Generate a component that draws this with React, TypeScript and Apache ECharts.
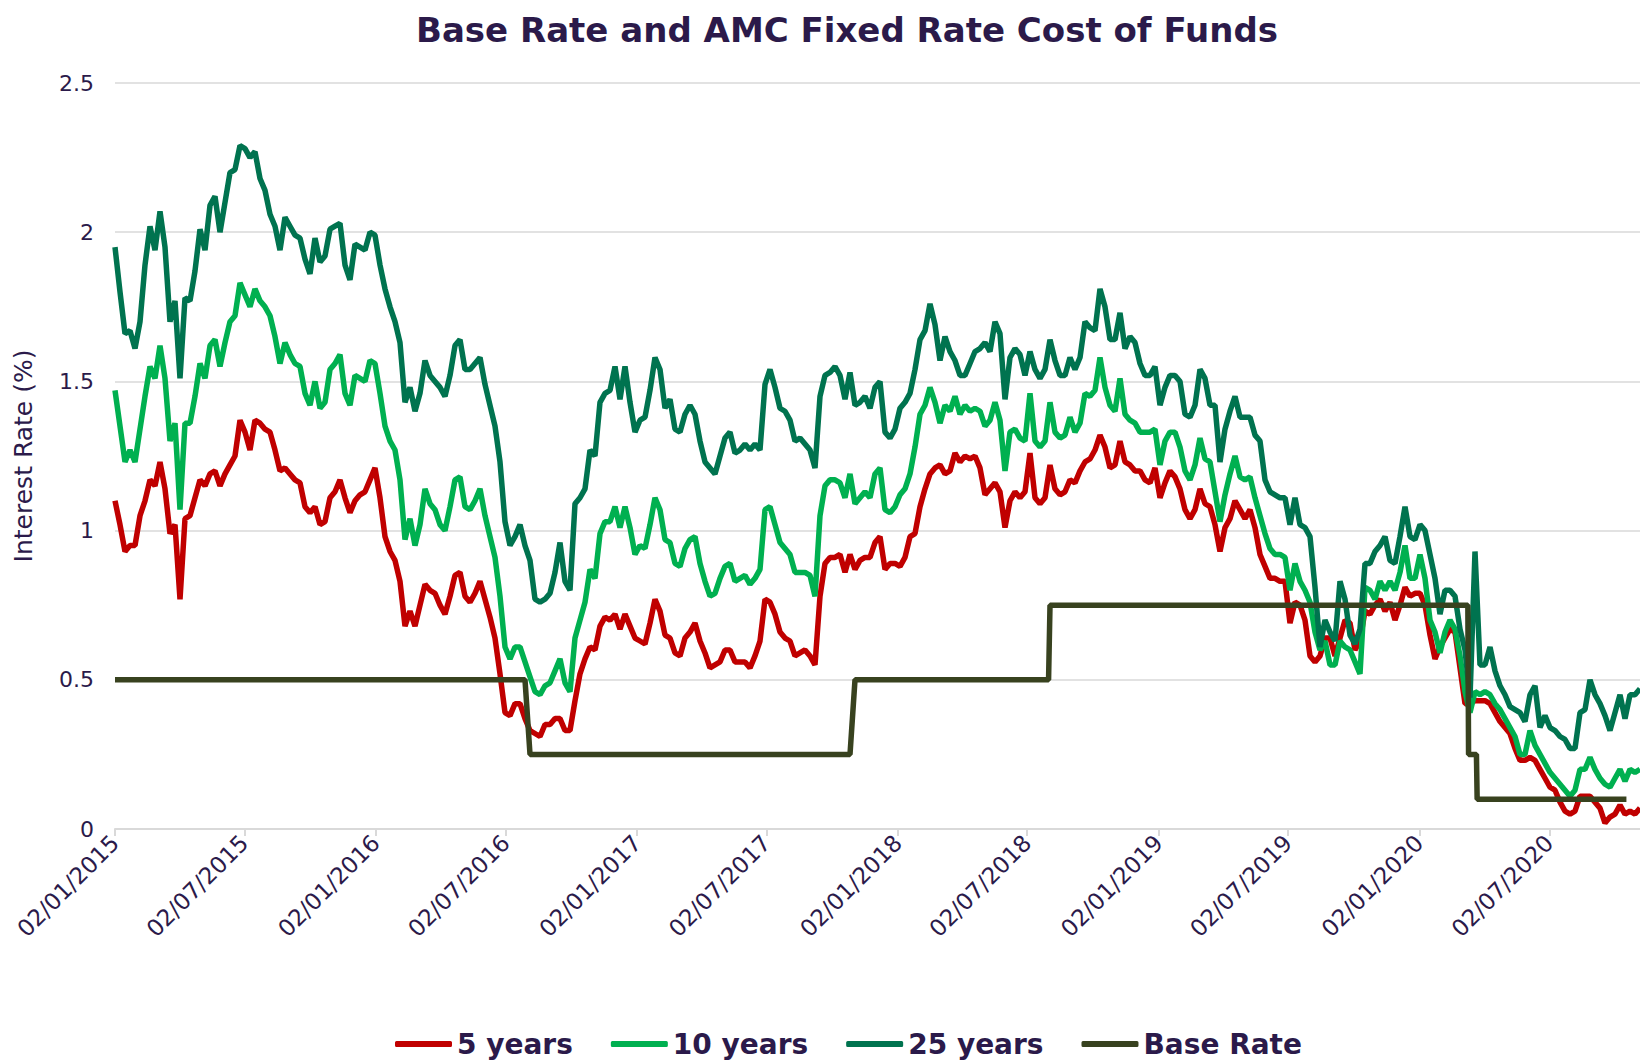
import React, { useEffect, useRef } from "react";
import * as echarts from "echarts";

// Weekly observations, first week 02/01/2015
const FIRST_WEEK = [2015, 1, 2];
const WEEK_COUNT = 306;

const years5: number[] = [
  1.10,1.02,0.93,0.95,0.95,1.05,1.10,1.17,1.15,1.23,
  1.14,0.99,1.02,0.77,1.04,1.05,1.11,1.17,1.15,1.19,
  1.20,1.15,1.19,1.22,1.25,1.37,1.33,1.27,1.37,1.36,
  1.34,1.33,1.27,1.20,1.21,1.19,1.17,1.16,1.08,1.06,
  1.08,1.02,1.03,1.11,1.13,1.17,1.11,1.06,1.10,1.12,
  1.13,1.17,
  1.21,1.11,0.98,0.93,0.90,0.83,0.68,0.73,0.68,0.75,
  0.82,0.80,0.79,0.75,0.72,0.78,0.85,0.86,0.78,0.76,
  0.79,0.83,0.77,0.71,0.64,0.52,0.39,0.38,0.42,0.42,
  0.37,0.33,0.32,0.31,0.35,0.35,0.37,0.37,0.33,0.33,
  0.43,0.52,0.57,0.61,0.60,0.68,0.71,0.70,0.72,0.67,
  0.72,0.68,
  0.64,0.63,0.62,0.69,0.77,0.73,0.65,0.64,0.59,0.58,
  0.64,0.66,0.69,0.63,0.59,0.54,0.55,0.56,0.60,0.60,
  0.56,0.56,0.56,0.54,0.58,0.63,0.77,0.76,0.72,0.66,
  0.64,0.63,0.58,0.59,0.60,0.58,0.55,0.78,0.89,0.91,
  0.91,0.92,0.86,0.92,0.87,0.90,0.91,0.91,0.96,0.98,
  0.87,0.89,
  0.89,0.88,0.91,0.98,0.99,1.08,1.14,1.19,1.21,1.22,
  1.19,1.20,1.26,1.23,1.25,1.24,1.25,1.21,1.12,1.14,
  1.16,1.13,1.01,1.10,1.13,1.11,1.13,1.26,1.11,1.09,
  1.11,1.22,1.14,1.12,1.13,1.17,1.16,1.20,1.23,1.24,
  1.27,1.32,1.28,1.21,1.22,1.30,1.23,1.22,1.20,1.20,
  1.17,1.16,
  1.21,1.11,1.16,1.20,1.18,1.14,1.07,1.04,1.07,1.14,
  1.09,1.08,1.02,0.93,1.01,1.04,1.10,1.07,1.04,1.07,
  1.01,0.92,0.88,0.84,0.84,0.83,0.83,0.69,0.76,0.75,
  0.70,0.58,0.56,0.58,0.64,0.64,0.58,0.64,0.70,0.69,
  0.60,0.63,0.73,0.72,0.75,0.77,0.73,0.76,0.70,0.75,
  0.81,0.78,0.79,0.79,0.75,0.65,0.57,0.61,0.64,0.67,
  0.66,0.54,0.42,0.42,0.43,0.43,0.43,0.42,0.39,0.36,
  0.34,0.32,0.27,0.23,0.23,0.24,0.23,0.20,0.17,0.14,
  0.13,0.09,0.06,0.05,0.06,0.11,0.11,0.11,0.09,0.07,
  0.02,0.04,0.05,0.08,0.05,0.06,0.05,0.07,
];

const years10: number[] = [
  1.47,1.35,1.23,1.27,1.23,1.34,1.45,1.55,1.51,1.62,
  1.51,1.30,1.36,1.07,1.36,1.36,1.45,1.56,1.51,1.62,
  1.64,1.55,1.63,1.70,1.72,1.83,1.79,1.75,1.81,1.77,
  1.75,1.72,1.65,1.56,1.63,1.59,1.56,1.55,1.46,1.42,
  1.50,1.41,1.43,1.54,1.56,1.59,1.46,1.42,1.52,1.51,
  1.50,1.57,
  1.56,1.46,1.35,1.30,1.27,1.17,0.97,1.04,0.95,1.02,
  1.14,1.09,1.07,1.02,1.00,1.08,1.17,1.18,1.08,1.07,
  1.10,1.14,1.05,0.98,0.91,0.78,0.61,0.57,0.61,0.61,
  0.56,0.51,0.46,0.45,0.48,0.49,0.53,0.57,0.49,0.46,
  0.64,0.70,0.76,0.87,0.84,0.99,1.03,1.03,1.08,1.01,
  1.08,1.01,
  0.92,0.95,0.94,1.02,1.11,1.07,0.97,0.96,0.89,0.88,
  0.94,0.97,0.98,0.89,0.83,0.78,0.79,0.84,0.88,0.89,
  0.83,0.84,0.85,0.82,0.84,0.87,1.07,1.08,1.02,0.96,
  0.94,0.92,0.86,0.86,0.86,0.85,0.78,1.05,1.15,1.17,
  1.17,1.16,1.11,1.19,1.09,1.11,1.13,1.11,1.19,1.21,
  1.07,1.06,
  1.08,1.12,1.14,1.19,1.28,1.39,1.42,1.48,1.43,1.36,
  1.42,1.40,1.45,1.39,1.42,1.40,1.41,1.40,1.35,1.37,
  1.43,1.37,1.20,1.33,1.34,1.31,1.30,1.46,1.30,1.28,
  1.30,1.43,1.33,1.31,1.32,1.38,1.33,1.36,1.46,1.45,
  1.47,1.58,1.48,1.42,1.40,1.51,1.39,1.37,1.36,1.33,
  1.33,1.33,
  1.34,1.22,1.30,1.33,1.33,1.28,1.20,1.17,1.22,1.31,
  1.24,1.23,1.13,1.03,1.12,1.19,1.25,1.18,1.17,1.18,
  1.11,1.05,0.99,0.94,0.92,0.92,0.91,0.80,0.89,0.83,
  0.80,0.76,0.66,0.60,0.63,0.55,0.55,0.63,0.61,0.60,
  0.56,0.52,0.81,0.80,0.77,0.83,0.80,0.83,0.80,0.86,
  0.95,0.84,0.84,0.92,0.84,0.70,0.66,0.59,0.66,0.70,
  0.67,0.58,0.46,0.39,0.46,0.45,0.46,0.45,0.42,0.40,
  0.37,0.34,0.31,0.25,0.25,0.33,0.28,0.25,0.22,0.19,
  0.17,0.15,0.13,0.11,0.13,0.20,0.20,0.24,0.20,0.17,
  0.15,0.14,0.17,0.20,0.16,0.20,0.19,0.20,
];

const years25: number[] = [
  1.95,1.80,1.66,1.67,1.61,1.70,1.89,2.02,1.94,2.07,
  1.95,1.70,1.77,1.51,1.78,1.77,1.87,2.01,1.94,2.09,
  2.12,2.00,2.10,2.20,2.21,2.29,2.28,2.25,2.27,2.18,
  2.14,2.06,2.02,1.94,2.05,2.02,1.99,1.98,1.91,1.86,
  1.98,1.90,1.92,2.01,2.02,2.03,1.89,1.84,1.96,1.95,
  1.94,2.00,
  1.99,1.89,1.81,1.75,1.70,1.63,1.43,1.48,1.40,1.46,
  1.57,1.52,1.50,1.48,1.45,1.52,1.62,1.64,1.54,1.54,
  1.56,1.58,1.49,1.42,1.35,1.23,1.03,0.95,0.98,1.02,
  0.95,0.90,0.77,0.76,0.77,0.79,0.86,0.96,0.83,0.80,
  1.09,1.11,1.14,1.27,1.25,1.43,1.46,1.47,1.55,1.44,
  1.55,1.43,
  1.33,1.37,1.38,1.47,1.58,1.54,1.41,1.44,1.34,1.33,
  1.39,1.42,1.39,1.30,1.23,1.21,1.19,1.25,1.31,1.33,
  1.26,1.27,1.29,1.27,1.29,1.27,1.49,1.54,1.48,1.41,
  1.40,1.37,1.30,1.31,1.29,1.27,1.21,1.45,1.52,1.53,
  1.55,1.52,1.44,1.53,1.42,1.43,1.45,1.41,1.48,1.50,
  1.33,1.31,
  1.34,1.41,1.43,1.46,1.54,1.64,1.67,1.76,1.69,1.57,
  1.65,1.60,1.57,1.52,1.52,1.56,1.60,1.61,1.63,1.60,
  1.70,1.66,1.44,1.58,1.61,1.59,1.52,1.60,1.54,1.51,
  1.54,1.64,1.57,1.52,1.52,1.58,1.54,1.58,1.70,1.68,
  1.67,1.81,1.75,1.64,1.64,1.73,1.61,1.65,1.63,1.56,
  1.52,1.52,
  1.55,1.42,1.48,1.52,1.52,1.50,1.39,1.38,1.42,1.54,
  1.51,1.42,1.42,1.23,1.34,1.40,1.45,1.38,1.38,1.38,
  1.32,1.30,1.17,1.13,1.12,1.11,1.11,1.02,1.11,1.02,
  1.01,0.98,0.81,0.61,0.70,0.66,0.63,0.83,0.77,0.65,
  0.62,0.67,0.89,0.89,0.93,0.95,0.98,0.90,0.89,0.98,
  1.08,0.98,0.97,1.02,1.00,0.92,0.84,0.72,0.80,0.80,
  0.78,0.67,0.60,0.44,0.93,0.55,0.55,0.61,0.53,0.48,
  0.45,0.41,0.40,0.39,0.36,0.45,0.48,0.34,0.38,0.34,
  0.33,0.31,0.30,0.27,0.27,0.39,0.40,0.50,0.45,0.42,
  0.38,0.33,0.39,0.45,0.37,0.45,0.45,0.47,
];

const baseRateDates: string[] = [
  "2015-01-02", "2016-07-29", "2016-08-05", "2017-10-27", "2017-11-03",
  "2018-08-01", "2018-08-03", "2020-03-10", "2020-03-11", "2020-03-22",
  "2020-03-23", "2020-10-18",
];
const baseRateValues: number[] = [0.5, 0.5, 0.25, 0.25, 0.5, 0.5, 0.75, 0.75, 0.25, 0.25, 0.1, 0.1];

const tickDates: string[] = [
  "2015-01-02", "2015-07-02", "2016-01-02", "2016-07-02", "2017-01-02", "2017-07-02",
  "2018-01-02", "2018-07-02", "2019-01-02", "2019-07-02", "2020-01-02", "2020-07-02",
];
const axisStart = "2015-01-02";
const axisEnd = "2020-11-06";

const seriesNames = ["5 years", "10 years", "25 years", "Base Rate"];
const seriesColors = ["#C00000", "#00B050", "#00734F", "#38421F"];

const TEXT = "#2B1A4A";
const FONT = "'DejaVu Sans', 'Open Sans', sans-serif";

function toTime(s: string): number {
  const [y, m, d] = s.split("-").map(Number);
  return new Date(y, m - 1, d).getTime();
}
function pad(n: number) {
  return n < 10 ? "0" + n : "" + n;
}
function fmt(v: number): string {
  const d = new Date(v);
  return pad(d.getDate()) + "/" + pad(d.getMonth() + 1) + "/" + d.getFullYear();
}

export default function App() {
  const ref = useRef<HTMLDivElement>(null);
  useEffect(() => {
    if (!ref.current) return;
    const chart = echarts.init(ref.current, undefined, { renderer: "svg" });
    const weeks: number[] = [];
    for (let i = 0; i < WEEK_COUNT; i++) {
      weeks.push(new Date(FIRST_WEEK[0], FIRST_WEEK[1] - 1, FIRST_WEEK[2] + 7 * i).getTime());
    }
    const ticks = tickDates.map(toTime);
    const mk = (vals: number[]) => vals.map((v, i) => [weeks[i], v]);
    const base = baseRateDates.map((d, i) => [toTime(d), baseRateValues[i]]);
    const datasets = [mk(years5), mk(years10), mk(years25), base];

    chart.setOption({
      animation: false,
      backgroundColor: "#FFFFFF",
      graphic: [
        {
          type: "text",
          x: 847,
          y: 30,
          style: {
            text: "Base Rate and AMC Fixed Rate Cost of Funds",
            fill: TEXT,
            font: `bold 34px ${FONT}`,
            textAlign: "center",
            textVerticalAlign: "middle",
          },
        },
      ],
      legend: {
        data: seriesNames,
        left: 390,
        top: 1024,
        icon: "roundRect",
        itemWidth: 57,
        itemHeight: 6,
        itemGap: 38,
        textStyle: { color: TEXT, fontSize: 28, lineHeight: 30, fontWeight: "bold", fontFamily: FONT },
      },
      grid: {
        left: 115,
        right: 0,
        top: 83,
        bottom: 232,
        containLabel: false,
        outerBoundsMode: "none",
      },
      xAxis: {
        type: "value",
        min: toTime(axisStart),
        max: toTime(axisEnd),
        axisLine: { show: true, lineStyle: { color: "#D9D9D9", width: 2 } },
        axisTick: { show: true, length: 7, lineStyle: { color: "#D9D9D9", width: 2 }, customValues: ticks },
        splitLine: { show: false },
        axisLabel: {
          customValues: ticks,
          formatter: (v: number) => fmt(v),
          rotate: 45,
          margin: 10,
          color: TEXT,
          fontSize: 23,
          fontFamily: FONT,
        },
      },
      yAxis: {
        type: "value",
        min: 0,
        max: 2.5,
        interval: 0.5,
        name: "Interest Rate (%)",
        nameLocation: "middle",
        nameRotate: 90,
        nameGap: 79,
        nameTextStyle: { color: TEXT, fontSize: 25, fontFamily: FONT },
        axisLine: { show: false },
        axisTick: { show: false },
        splitLine: { lineStyle: { color: "#D9D9D9", width: 1.5 } },
        axisLabel: { color: TEXT, fontSize: 22, fontFamily: FONT, margin: 21 },
      },
      series: datasets.map((d, i) => ({
        name: seriesNames[i],
        type: "line",
        data: d,
        showSymbol: false,
        symbol: "none",
        clip: true,
        color: seriesColors[i],
        lineStyle: { color: seriesColors[i], width: 5.5 },
        z: 2 + i,
      })),
    });
    return () => chart.dispose();
  }, []);
  return (
    <div
      ref={ref}
      style={{ position: "fixed", left: 0, top: 0, width: 1640, height: 1061, background: "#fff" }}
    />
  );
}
